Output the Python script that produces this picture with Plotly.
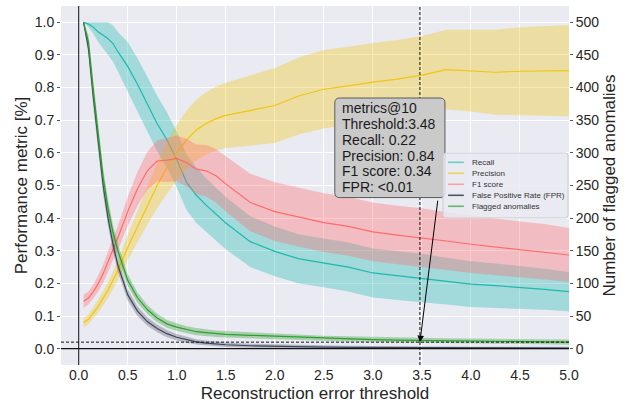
import plotly.graph_objects as go

# ---------------- data ----------------
thresholds = [0.05, 0.1, 0.15, 0.2, 0.25, 0.3, 0.35, 0.4, 0.5, 0.6, 0.7, 0.8, 0.9, 1.0,
              1.1, 1.2, 1.3, 1.4, 1.5, 1.75, 2.0, 2.25, 2.5, 2.75, 3.0, 3.25, 3.5, 3.75,
              4.0, 4.25, 4.5, 4.75, 5.0]

recall = [1.0, 0.995, 0.985, 0.97, 0.96, 0.95, 0.935, 0.91, 0.865, 0.81, 0.75, 0.69, 0.64, 0.58,
          0.51, 0.47, 0.44, 0.413, 0.385, 0.328, 0.298, 0.275, 0.263, 0.25, 0.232, 0.224, 0.216, 0.207,
          0.198, 0.193, 0.188, 0.182, 0.175]
recall_sd = [0.0, 0.01, 0.02, 0.03, 0.04, 0.05, 0.055, 0.06, 0.075, 0.08, 0.083, 0.085, 0.085, 0.085,
             0.085, 0.085, 0.082, 0.08, 0.08, 0.078, 0.076, 0.075, 0.075, 0.075, 0.075, 0.075, 0.075, 0.072,
             0.07, 0.068, 0.066, 0.063, 0.06]

precision = [0.08, 0.09, 0.11, 0.13, 0.155, 0.18, 0.21, 0.24, 0.31, 0.375, 0.44, 0.5, 0.555, 0.6,
             0.64, 0.67, 0.69, 0.705, 0.715, 0.73, 0.745, 0.775, 0.795, 0.805, 0.817, 0.826, 0.838, 0.855,
             0.852, 0.847, 0.85, 0.851, 0.852]
precision_sd = [0.015, 0.015, 0.017, 0.02, 0.022, 0.025, 0.028, 0.03, 0.04, 0.05, 0.06, 0.07, 0.08, 0.085,
                0.09, 0.093, 0.096, 0.098, 0.1, 0.108, 0.115, 0.118, 0.12, 0.12, 0.12, 0.12, 0.12, 0.122,
                0.125, 0.13, 0.135, 0.138, 0.14]

f1 = [0.145, 0.155, 0.175, 0.2, 0.23, 0.265, 0.305, 0.34, 0.42, 0.49, 0.545, 0.575, 0.578, 0.583,
      0.57, 0.55, 0.545, 0.53, 0.505, 0.448, 0.42, 0.402, 0.386, 0.375, 0.358, 0.348, 0.34, 0.33,
      0.32, 0.312, 0.304, 0.297, 0.287]
f1_sd = [0.02, 0.02, 0.022, 0.025, 0.028, 0.03, 0.033, 0.037, 0.045, 0.052, 0.058, 0.063, 0.067, 0.07,
         0.073, 0.076, 0.079, 0.082, 0.085, 0.088, 0.09, 0.09, 0.09, 0.09, 0.09, 0.09, 0.09, 0.089,
         0.088, 0.087, 0.086, 0.085, 0.083]

fpr = [1.0, 0.92, 0.77, 0.63, 0.5, 0.4, 0.32, 0.255, 0.165, 0.115, 0.083, 0.062, 0.046, 0.035,
       0.027, 0.021, 0.017, 0.014, 0.012, 0.009, 0.007, 0.006, 0.005, 0.004, 0.004, 0.003, 0.003, 0.003,
       0.002, 0.002, 0.002, 0.002, 0.002]
fpr_sd = [0.0, 0.02, 0.03, 0.03, 0.028, 0.025, 0.022, 0.02, 0.017, 0.015, 0.013, 0.012, 0.011, 0.01,
          0.009, 0.008, 0.008, 0.007, 0.007, 0.006, 0.006, 0.005, 0.005, 0.005, 0.004, 0.004, 0.004, 0.004,
          0.004, 0.004, 0.004, 0.004, 0.004]

flagged = [500, 470, 395, 325, 262, 215, 178, 150, 105, 78, 60, 47, 38, 33,
           29, 26, 24.5, 23, 22, 20.5, 19, 17.5, 16, 15, 14, 13, 12.5, 12,
           11.5, 11, 11, 10.5, 10]
flagged_sd = [0, 10, 15, 15, 14, 13, 12, 11, 9, 8, 7, 6.5, 6, 6,
              5.5, 5.5, 5, 5, 5, 4.5, 4.5, 4.5, 4, 4, 4, 4, 4, 4,
              4, 4, 4, 4, 4]

series_names = ["Recall", "Precision", "F1 score", "False Positive Rate (FPR)", "Flagged anomalies"]
left_ticks = [0.0, 0.1, 0.2, 0.3, 0.4, 0.5, 0.6, 0.7, 0.8, 0.9, 1.0]
right_ticks = [0, 50, 100, 150, 200, 250, 300, 350, 400, 450, 500]
x_ticks = [0.0, 0.5, 1.0, 1.5, 2.0, 2.5, 3.0, 3.5, 4.0, 4.5, 5.0]

THRESHOLD = 3.48
N_FLAGGED = 10
box_lines = ["metrics@10", "Threshold:3.48", "Recall: 0.22", "Precision: 0.84",
             "F1 score: 0.34", "FPR: <0.01"]

# ---------------- styling ----------------
line_colors = ["#1DB9AE", "#F2C511", "#FF6B6B", "#3A4556", "#2E9E2E"]
band_colors = ["rgba(29,185,174,0.35)", "rgba(242,197,17,0.35)", "rgba(255,107,107,0.35)",
               "rgba(58,69,86,0.30)", "rgba(46,158,46,0.35)"]
legend_colors = ["rgba(29,185,174,0.6)", "rgba(242,197,17,0.7)", "rgba(255,107,107,0.6)",
                 "rgba(58,69,86,0.9)", "rgba(46,158,46,0.7)"]
FONT = "Arial, Liberation Sans, Helvetica, sans-serif"
TXT = "#262626"

fig = go.Figure()

def add_series(mean, sd, idx, yaxis="y", top=None):
    up = [m + s for m, s in zip(mean, sd)]
    if top is not None:
        up = [min(u, top) for u in up]
    lo = [m - s for m, s in zip(mean, sd)]
    fig.add_trace(go.Scatter(
        x=thresholds + thresholds[::-1], y=up + lo[::-1], fill="toself",
        fillcolor=band_colors[idx], line=dict(width=0), mode="lines",
        hoverinfo="skip", showlegend=False, yaxis=yaxis))
    fig.add_trace(go.Scatter(
        x=thresholds, y=mean, mode="lines", name=series_names[idx],
        line=dict(color=line_colors[idx], width=1.2), showlegend=False, yaxis=yaxis))

add_series(recall, recall_sd, 0, top=1.0)
add_series(precision, precision_sd, 1)
add_series(f1, f1_sd, 2)
add_series(fpr, fpr_sd, 3, top=1.0)
add_series(flagged, flagged_sd, 4, yaxis="y2", top=500)

shapes = []
# reference lines
shapes.append(dict(type="line", xref="x", yref="paper", x0=0, x1=0, y0=0, y1=1,
                   line=dict(color="#333333", width=1.2)))
shapes.append(dict(type="line", xref="paper", yref="y", x0=0, x1=1, y0=0, y1=0,
                   line=dict(color="#111111", width=1.2)))
shapes.append(dict(type="line", xref="paper", yref="y2", x0=0, x1=1, y0=N_FLAGGED, y1=N_FLAGGED,
                   line=dict(color="#111111", width=1, dash="3px,2px")))
shapes.append(dict(type="line", xref="x", yref="paper", x0=THRESHOLD, x1=THRESHOLD, y0=0, y1=1,
                   line=dict(color="#111111", width=1, dash="3px,2px")))

def rounded(x0, x1, y0, y1, rx, ry):
    return (f"M {x0+rx},{y1} L {x1-rx},{y1} Q {x1},{y1} {x1},{y1-ry} "
            f"L {x1},{y0+ry} Q {x1},{y0} {x1-rx},{y0} L {x0+rx},{y0} "
            f"Q {x0},{y0} {x0},{y0+ry} L {x0},{y1-ry} Q {x0},{y1} {x0+rx},{y1} Z")

# annotation box (data coords)
shapes.append(dict(type="path", xref="x", yref="y",
                   path=rounded(2.612, 3.735, 0.463, 0.768, 0.05, 0.015),
                   fillcolor="rgb(202,202,202)", line=dict(color="rgb(90,90,90)", width=1)))

# manual legend (paper coords)
shapes.append(dict(type="path", xref="paper", yref="paper",
                   path=rounded(0.752, 0.998, 0.4095, 0.5905, 0.006, 0.008),
                   fillcolor="rgba(234,234,242,0.85)", line=dict(color="rgb(205,205,205)", width=1)))
legend_y = [0.5646, 0.534, 0.5033, 0.4727, 0.4421]
annotations = []
for i, name in enumerate(series_names):
    shapes.append(dict(type="line", xref="paper", yref="paper", x0=0.762, x1=0.793,
                       y0=legend_y[i], y1=legend_y[i],
                       line=dict(color=legend_colors[i], width=1.6)))
    annotations.append(dict(xref="paper", yref="paper", x=0.805, y=legend_y[i], text=name,
                            showarrow=False, xanchor="left", yanchor="middle",
                            font=dict(family=FONT, size=8, color="#333333")))

# box text lines
box_y = [0.7363, 0.6881, 0.6399, 0.5918, 0.5436, 0.4954]
for t, yy in zip(box_lines, box_y):
    annotations.append(dict(xref="x", yref="y", x=2.663, y=yy, text=t, showarrow=False,
                            xanchor="left", yanchor="middle",
                            font=dict(family=FONT, size=14, color="#1a1a1a")))

# arrow to threshold point
annotations.append(dict(xref="x", yref="y2", x=THRESHOLD, y=N_FLAGGED, text="",
                        showarrow=True, arrowhead=2, arrowsize=1.3, arrowwidth=1,
                        arrowcolor="#000000", ax=18, ay=-143, standoff=0))

fig.update_layout(
    width=627, height=407,
    margin=dict(l=61, r=58, t=6, b=42),
    paper_bgcolor="white", plot_bgcolor="#EAEAF2",
    font=dict(family=FONT, color=TXT),
    showlegend=False,
    shapes=shapes, annotations=annotations,
    xaxis=dict(range=[-0.18, 5.0], tickvals=x_ticks, tickformat=".1f",
               showgrid=True, gridcolor="white", gridwidth=1, zeroline=False,
               tickfont=dict(size=14, color=TXT),
               title=dict(text="Reconstruction error threshold", font=dict(size=17, color=TXT),
                          standoff=5)),
    yaxis=dict(range=[-0.05, 1.05], tickvals=left_ticks, tickformat=".1f",
               showgrid=True, gridcolor="white", gridwidth=1, zeroline=False,
               ticks="outside", ticklen=3, tickcolor="#555555",
               tickfont=dict(size=14, color=TXT),
               title=dict(text="Performance metric [%]", font=dict(size=17, color=TXT),
                          standoff=2)),
    yaxis2=dict(range=[-25, 525], tickvals=right_ticks, overlaying="y", side="right",
                showgrid=False, zeroline=False,
                ticks="outside", ticklen=3, tickcolor="#555555",
                tickfont=dict(size=14, color=TXT),
                title=dict(text="Number of flagged anomalies", font=dict(size=17, color=TXT),
                           standoff=4)),
)

fig.write_html("out.html")
